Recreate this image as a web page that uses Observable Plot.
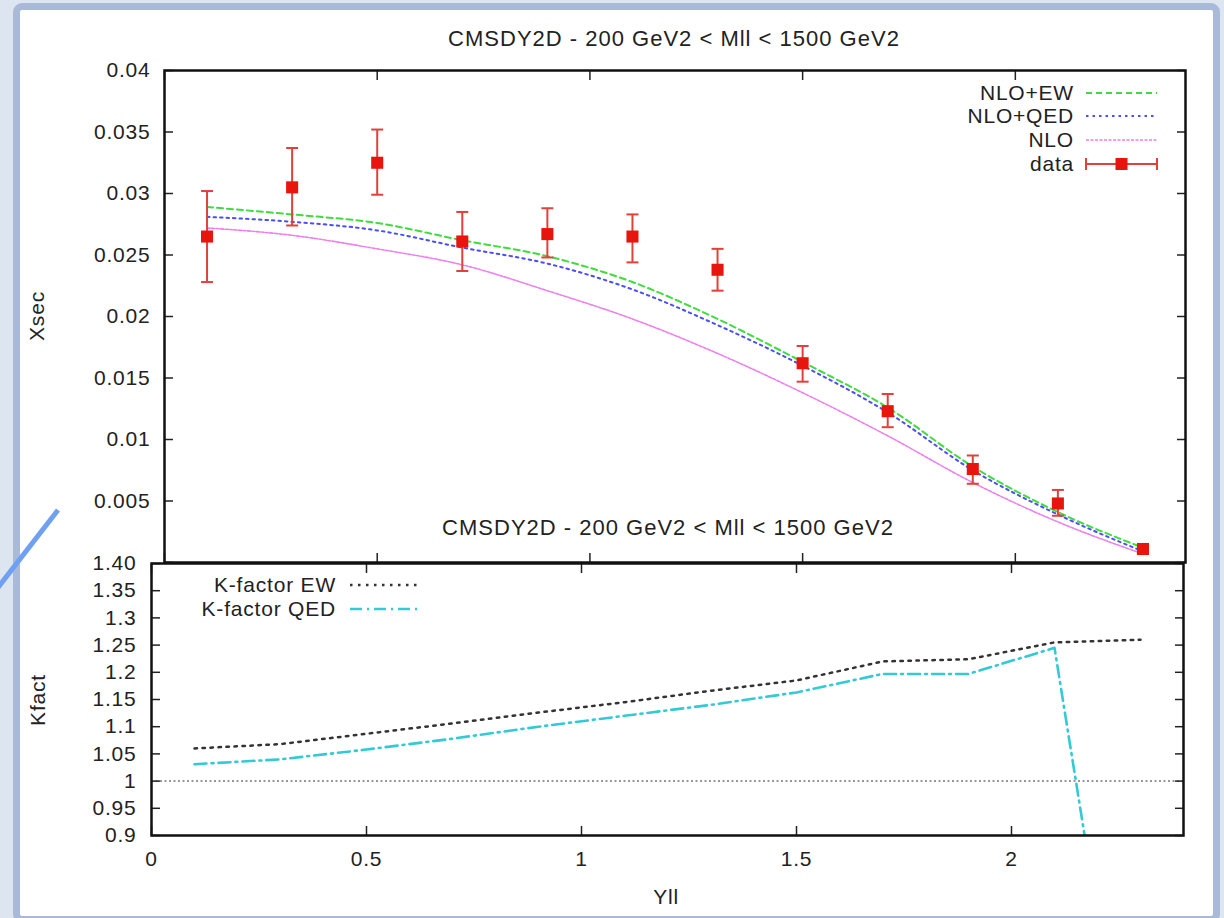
<!DOCTYPE html>
<html><head><meta charset="utf-8">
<script src="https://cdn.jsdelivr.net/npm/d3@7"></script>
<script src="https://cdn.jsdelivr.net/npm/@observablehq/plot@0.6"></script>
<style>
html,body{margin:0;padding:0;background:#dde5f1;}
#page{position:relative;width:1224px;height:918px;overflow:hidden;background:#dde5f1;font-family:"Liberation Sans",Arial,sans-serif;color:#222;}
#box{position:absolute;left:13px;top:3px;width:1207px;height:920px;box-sizing:border-box;border:7px solid #a9b9d8;border-radius:9px;background:#fff;}
.abs{position:absolute;white-space:nowrap;}
.t{font-size:22px;letter-spacing:1px;transform:translate(-50%,-50%);}
.lab{font-size:21px;letter-spacing:0.8px;transform:translate(-50%,-50%);}
.rot{transform:translate(-50%,-50%) rotate(-90deg);}
.plotwrap{position:absolute;left:0;top:0;}
.leg{position:absolute;font-size:21px;letter-spacing:0.8px;text-align:right;transform:translate(-100%,-50%);}
svg.deco{position:absolute;left:0;top:0;pointer-events:none;}
</style>
</head><body>
<div id="page">
  <div id="box"></div>
  <div id="topPlot" class="plotwrap"></div>
  <div id="botPlot" class="plotwrap"></div>
  <div class="abs t" style="left:674px;top:39px;">CMSDY2D - 200 GeV2 &lt; Mll &lt; 1500 GeV2</div>
  <div class="abs t" style="left:668px;top:528px;">CMSDY2D - 200 GeV2 &lt; Mll &lt; 1500 GeV2</div>
  <div class="abs lab rot" style="left:37px;top:316px;">Xsec</div>
  <div class="abs lab rot" style="left:38px;top:700px;">Kfact</div>
  <div class="abs lab" style="left:666px;top:897px;">Yll</div>
  <div id="legends"></div>
  <svg class="deco" width="1224" height="918"><line x1="58" y1="510" x2="-4" y2="590" stroke="#6fa0f2" stroke-width="5"/></svg>
</div>
<script>
// ---- data ----
const xs      = [0.1, 0.3, 0.5, 0.7, 0.9, 1.1, 1.3, 1.5, 1.7, 1.9, 2.1, 2.3];
const dataY   = [0.0265, 0.0305, 0.0325, 0.0261, 0.0267, 0.0265, 0.0238, 0.0162, 0.0123, 0.0076, 0.0048, 0.0011];
const dataLo  = [0.0228, 0.0274, 0.0299, 0.0237, 0.0248, 0.0244, 0.0221, 0.0147, 0.0110, 0.0064, 0.0038, 0.0008];
const dataHi  = [0.0302, 0.0337, 0.0352, 0.0285, 0.0288, 0.0283, 0.0255, 0.0176, 0.0137, 0.0087, 0.0059, 0.0014];
const nloEW   = [0.0289, 0.0283, 0.0276, 0.0262, 0.0249, 0.0228, 0.0198, 0.0163, 0.0126, 0.0078, 0.0041, 0.0012];
const nloQED  = [0.0281, 0.0277, 0.0270, 0.0256, 0.0243, 0.0222, 0.0193, 0.0160, 0.0122, 0.0075, 0.0039, 0.0009];
const nlo     = [0.0272, 0.0266, 0.0255, 0.0242, 0.0221, 0.0198, 0.0170, 0.0138, 0.0103, 0.0065, 0.0033, 0.0007];
const kEW     = [1.060, 1.068, 1.087, 1.106, 1.126, 1.145, 1.166, 1.185, 1.220, 1.224, 1.255, 1.260];
const kQED    = [1.031, 1.040, 1.058, 1.078, 1.100, 1.120, 1.140, 1.163, 1.197, 1.197, 1.245, 0.26];

const xTicks       = [0, 0.5, 1, 1.5, 2];
const xTickLabels  = ["0", "0.5", "1", "1.5", "2"];
const yTicks       = [0, 0.005, 0.01, 0.015, 0.02, 0.025, 0.03, 0.035, 0.04];
const yTickLabels  = ["0", "0.005", "0.01", "0.015", "0.02", "0.025", "0.03", "0.035", "0.04"];
const kTicks       = [0.9, 0.95, 1, 1.05, 1.1, 1.15, 1.2, 1.25, 1.3, 1.35, 1.4];
const kTickLabels  = ["0.9", "0.95", "1", "1.05", "1.1", "1.15", "1.2", "1.25", "1.3", "1.35", "1.40"];
const refLine      = [1];
const xDomain      = [0, 2.4];

const seriesTop = [
  {name: "NLO+EW",  key: "ew",  color: "#3fdc3f", dash: "6,4", width: 2},
  {name: "NLO+QED", key: "qed", color: "#4b4ff0", dash: "2.5,4", width: 2},
  {name: "NLO",     key: "nlo", color: "#ec80ec", dash: "3,1.5", width: 1.6}
];
const seriesBot = [
  {name: "K-factor EW",  key: "kew",  color: "#333333", dash: "2.5,5.5", width: 2.5},
  {name: "K-factor QED", key: "kqed", color: "#33c9d6", dash: "12,5,2,5", width: 2.6}
];
const red = "#e8140e", errRed = "#e0413a";

// ---- rows ----
const rows = xs.map((x, i) => ({x, d: dataY[i], lo: dataLo[i], hi: dataHi[i],
  ew: nloEW[i], qed: nloQED[i], nlo: nlo[i], kew: kEW[i], kqed: kQED[i]}));

const font = {background: "transparent", fontFamily: "'Liberation Sans', Arial, sans-serif", fontSize: "21px", color: "#222", letterSpacing: "0.8px", overflow: "visible"};
const yMap = new Map(yTicks.map((v, i) => [v, yTickLabels[i]]));
const kMap = new Map(kTicks.map((v, i) => [v, kTickLabels[i]]));
const xMap = new Map(xTicks.map((v, i) => [v, xTickLabels[i]]));
const cap = {draw(ctx) { ctx.moveTo(-6, 0); ctx.lineTo(6, 0); }};

function tickMarks(xt, yt) {
  return [
    Plot.axisY({ticks: yt, anchor: "left", tickSize: 9, dx: 9, fill: "none", strokeWidth: 1.5, label: null}),
    Plot.axisY({ticks: yt, anchor: "right", tickSize: 9, dx: -9, fill: "none", strokeWidth: 1.5, label: null}),
    Plot.axisX({ticks: xt, anchor: "top", tickSize: 9, dy: 9, fill: "none", strokeWidth: 1.5, label: null}),
    Plot.axisX({ticks: xt, anchor: "bottom", tickSize: 9, dy: -9, fill: "none", strokeWidth: 1.5, label: null})
  ];
}

const topChart = Plot.plot({
  width: 1224, height: 918,
  marginLeft: 164, marginRight: 39, marginTop: 70, marginBottom: 356,
  style: font,
  x: {domain: xDomain},
  y: {domain: [0, 0.04]},
  marks: [
    ...tickMarks(xTicks, yTicks),
    Plot.axisY({ticks: yTicks.slice(1), anchor: "left", tickSize: 0, tickPadding: 14, stroke: "none", label: null, tickFormat: d => yMap.get(d)}),
    ...seriesTop.map(s => Plot.line(rows, {x: "x", y: s.key, stroke: s.color, strokeWidth: s.width, strokeDasharray: s.dash, curve: "monotone-x"})),
    Plot.ruleX(rows, {x: "x", y1: "lo", y2: "hi", stroke: errRed, strokeWidth: 2}),
    Plot.dot(rows, {x: "x", y: "hi", symbol: cap, stroke: errRed, strokeWidth: 2, fill: "none"}),
    Plot.dot(rows, {x: "x", y: "lo", symbol: cap, stroke: errRed, strokeWidth: 2, fill: "none"}),
    Plot.dot(rows, {x: "x", y: "d", symbol: "square", r: 6.8, fill: red, stroke: "none"}),
    Plot.frame({stroke: "#111", strokeWidth: 2.5})
  ]
});
document.getElementById("topPlot").append(topChart);

const botChart = Plot.plot({
  width: 1224, height: 918,
  marginLeft: 151, marginRight: 41, marginTop: 563, marginBottom: 83,
  style: font,
  x: {domain: xDomain},
  y: {domain: [0.9, 1.4]},
  marks: [
    Plot.ruleY(refLine, {stroke: "#777", strokeWidth: 1.5, strokeDasharray: "2,2.5"}),
    ...tickMarks(xTicks, kTicks),
    Plot.axisY({ticks: kTicks, anchor: "left", tickSize: 0, tickPadding: 15, stroke: "none", label: null, tickFormat: d => kMap.get(d)}),
    Plot.axisX({ticks: xTicks, anchor: "bottom", tickSize: 0, tickPadding: 16, stroke: "none", label: null, tickFormat: d => xMap.get(d)}),
    ...seriesBot.map(s => Plot.line(rows, {x: "x", y: s.key, stroke: s.color, strokeWidth: s.width, strokeDasharray: s.dash, clip: true})),
    Plot.frame({stroke: "#111", strokeWidth: 2.5})
  ]
});
document.getElementById("botPlot").append(botChart);

// ---- legends ----
const leg = document.getElementById("legends");
function addLegend(name, s, textRight, y, x1, x2, isData) {
  const d = document.createElement("div");
  d.className = "leg"; d.style.left = textRight + "px"; d.style.top = y + "px"; d.textContent = name;
  leg.append(d);
  const ns = "http://www.w3.org/2000/svg";
  const svg = document.createElementNS(ns, "svg");
  svg.setAttribute("width", 1224); svg.setAttribute("height", 918);
  svg.setAttribute("class", "deco");
  const l = document.createElementNS(ns, "line");
  l.setAttribute("x1", x1); l.setAttribute("x2", x2); l.setAttribute("y1", y); l.setAttribute("y2", y);
  l.setAttribute("stroke", s.color); l.setAttribute("stroke-width", s.width);
  if (s.dash) l.setAttribute("stroke-dasharray", s.dash);
  svg.append(l);
  if (isData) {
    for (const cx of [x1, x2]) {
      const c = document.createElementNS(ns, "line");
      c.setAttribute("x1", cx); c.setAttribute("x2", cx); c.setAttribute("y1", y - 6); c.setAttribute("y2", y + 6);
      c.setAttribute("stroke", s.color); c.setAttribute("stroke-width", 2);
      svg.append(c);
    }
    const r = document.createElementNS(ns, "rect");
    const m = (x1 + x2) / 2;
    r.setAttribute("x", m - 6); r.setAttribute("y", y - 6); r.setAttribute("width", 12); r.setAttribute("height", 12);
    r.setAttribute("fill", red);
    svg.append(r);
  }
  leg.append(svg);
}
const topRows = [93, 116, 140, 164];
seriesTop.forEach((s, i) => addLegend(s.name, s, 1074, topRows[i], 1086, 1157, false));
addLegend("data", {color: errRed, width: 2, dash: null}, 1074, topRows[3], 1086, 1157, true);
const botRows = [585, 609];
seriesBot.forEach((s, i) => addLegend(s.name, s, 336, botRows[i], 350, 418, false));
</script>
</body></html>
